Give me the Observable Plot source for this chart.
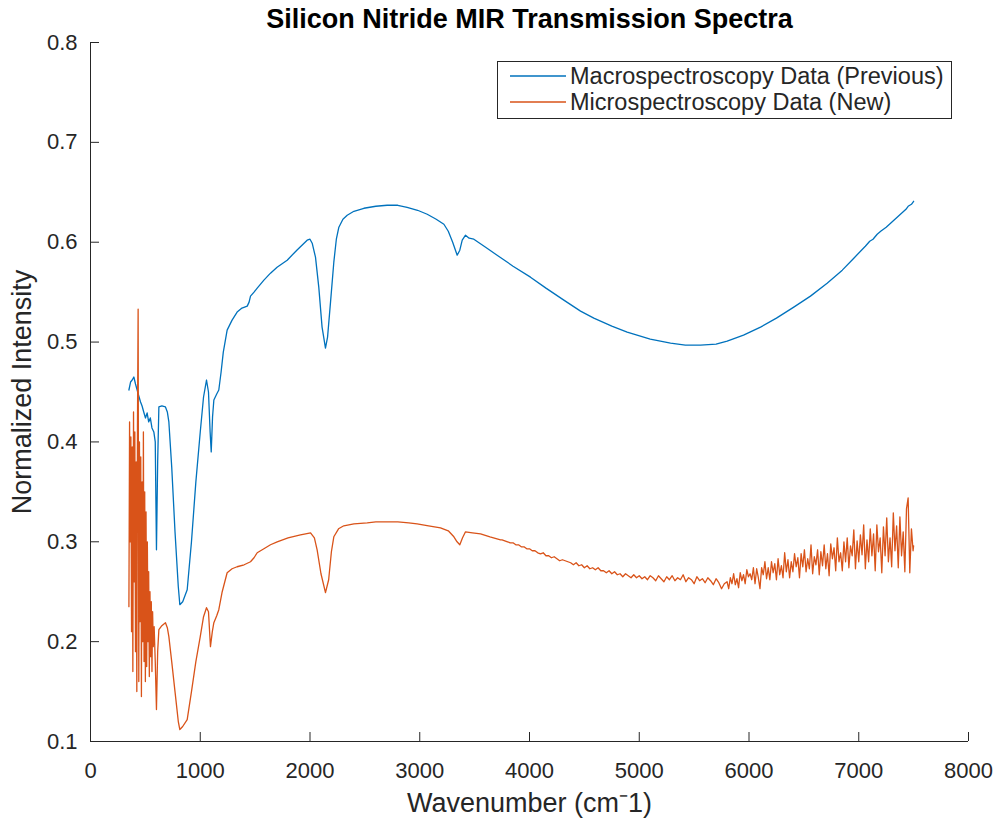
<!DOCTYPE html>
<html><head><meta charset="utf-8">
<script src="https://cdn.jsdelivr.net/npm/d3@7"></script>
<script src="https://cdn.jsdelivr.net/npm/@observablehq/plot@0.6"></script>
<style>
body{margin:0;background:#fff;font-family:"Liberation Sans",Arial,Helvetica,sans-serif;}
#wrap{position:relative;width:1001px;height:820px;}
#legend{position:absolute;left:497px;top:61px;width:455px;height:58px;border:1px solid #262626;background:#fff;box-sizing:border-box;}
#legend .row{position:absolute;left:0;height:26px;display:flex;align-items:center;}
#legend .row svg{margin-left:12px;margin-right:4px;}
#legend .row span{font-size:23.5px;color:#262626;white-space:nowrap;}
</style></head><body><div id="wrap"></div>
<script>
const title = "Silicon Nitride MIR Transmission Spectra";
const xLabel = "Wavenumber (cm\u207B1)";
const yLabel = "Normalized Intensity";
const seriesNames = ["Macrospectroscopy Data (Previous)", "Microspectroscopy Data (New)"];
const seriesColors = ["#0072BD", "#D95319"];
const xTicks = [0, 1000, 2000, 3000, 4000, 5000, 6000, 7000, 8000];
const yTicks = [0.1, 0.2, 0.3, 0.4, 0.5, 0.6, 0.7, 0.8];

const macroWn = [350,365,380,395,410,425,440,456,470,485,501,516,530,545,560,577,590,601,612,623,650,683,700,714,740,770,800,814,840,881,920,960,1000,1030,1057,1075,1090,1100,1112,1124,1150,1169,1190,1210,1245,1290,1336,1380,1428,1445,1458,1490,1519,1580,1640,1700,1792,1880,1974,2000,2020,2050,2080,2110,2141,2160,2187,2217,2240,2263,2300,2339,2400,2491,2600,2703,2800,2885,2980,3068,3150,3220,3260,3300,3341,3365,3387,3417,3450,3493,3600,3705,3850,4009,4150,4313,4465,4586,4750,4890,5100,5285,5420,5558,5700,5801,5950,6105,6250,6408,6560,6712,6850,6955,7060,7100,7130,7168,7200,7250,7290,7320,7360,7400,7430,7450,7480,7500];
const macroVal = [0.452,0.460,0.462,0.465,0.458,0.452,0.446,0.440,0.436,0.430,0.424,0.429,0.420,0.424,0.414,0.410,0.400,0.292,0.380,0.435,0.436,0.435,0.430,0.420,0.375,0.310,0.255,0.237,0.240,0.252,0.300,0.360,0.410,0.445,0.462,0.450,0.410,0.390,0.425,0.442,0.448,0.452,0.470,0.490,0.512,0.522,0.530,0.534,0.536,0.540,0.546,0.550,0.554,0.562,0.569,0.575,0.582,0.592,0.602,0.603,0.599,0.585,0.555,0.515,0.494,0.505,0.540,0.580,0.603,0.615,0.623,0.627,0.631,0.634,0.636,0.637,0.637,0.635,0.632,0.628,0.623,0.618,0.611,0.600,0.587,0.592,0.602,0.607,0.604,0.603,0.595,0.587,0.576,0.565,0.554,0.542,0.531,0.524,0.516,0.510,0.503,0.499,0.497,0.497,0.498,0.501,0.507,0.515,0.524,0.535,0.546,0.559,0.572,0.584,0.596,0.601,0.603,0.608,0.611,0.615,0.619,0.622,0.626,0.630,0.633,0.636,0.638,0.641];

const microWn = [350,356,362,368,374,380,386,392,398,404,410,416,422,428,434,440,446,452,458,464,470,476,482,488,494,500,506,512,518,524,530,536,542,548,554,560,566,572,580,590,601,612,623,650,683,700,714,740,770,800,814,840,881,920,960,1000,1030,1057,1075,1093,1110,1124,1150,1169,1200,1245,1290,1336,1400,1458,1490,1519,1580,1640,1701,1800,1913,1960,2005,2040,2065,2100,2141,2170,2195,2217,2260,2308,2400,2521,2600,2673,2800,2900,2976,3080,3189,3260,3311,3340,3365,3390,3417,3480,3554,3640,3736,
3750,3775,3800,3825,3850,3875,3900,3925,3950,3975,4000,4025,4050,4075,4100,4125,4150,4175,4200,4225,4250,4275,4300,4325,4350,4375,4400,4425,4450,4475,4500,4525,4550,4575,4600,4625,4650,4675,4700,4725,4750,4775,4800,4825,4850,4875,4900,4925,4950,4975,5000,5025,5050,5075,5100,5125,5150,5175,5200,5225,5250,5275,5300,5325,5350,5375,5400,5425,5450,5475,5500,5525,5550,5575,5600,5625,5650,5675,5700,5725,5750,5775,
5800,5815,5830,5845,5860,5875,5890,5905,5920,5935,5950,5965,5980,5995,6010,6025,6040,6055,6070,6085,6100,6115,6130,6145,6160,6175,6190,6205,6220,6235,6250,6265,6280,6295,6310,6325,6340,6355,6370,6385,6400,6415,6430,6445,6460,6475,6490,6505,6520,6535,6550,6565,6580,6595,6610,6625,6640,6655,6670,6685,6700,6715,6730,6745,6760,6775,6790,6805,6820,6835,6850,6865,6880,6895,6910,6925,6940,6955,6970,6985,7000,7015,7030,7045,7060,7075,7090,7105,7120,7135,7150,7165,7180,7195,7210,7225,7240,7255,7270,7285,7300,7315,7330,7345,7360,7375,7390,7405,7420,7435,7450,7465,7480,7495,7500];
const microVal = [0.235,0.420,0.300,0.405,0.210,0.395,0.170,0.430,0.260,0.410,0.190,0.380,0.150,0.415,0.533,0.160,0.400,0.220,0.385,0.145,0.360,0.200,0.410,0.180,0.350,0.160,0.330,0.175,0.300,0.200,0.270,0.165,0.250,0.185,0.240,0.170,0.230,0.195,0.215,0.180,0.132,0.190,0.212,0.216,0.219,0.214,0.205,0.180,0.150,0.120,0.112,0.115,0.122,0.150,0.180,0.205,0.225,0.234,0.230,0.195,0.210,0.219,0.226,0.232,0.250,0.269,0.273,0.275,0.277,0.280,0.284,0.289,0.293,0.297,0.300,0.304,0.307,0.308,0.309,0.304,0.292,0.268,0.249,0.262,0.290,0.305,0.313,0.316,0.318,0.319,0.320,0.320,0.320,0.319,0.318,0.316,0.314,0.311,0.305,0.300,0.297,0.304,0.310,0.309,0.308,0.305,0.302,
0.302,0.301,0.300,0.299,0.299,0.297,0.297,0.295,0.295,0.293,0.293,0.291,0.291,0.289,0.288,0.289,0.286,0.286,0.284,0.285,0.283,0.281,0.282,0.281,0.280,0.279,0.277,0.279,0.276,0.277,0.274,0.276,0.273,0.274,0.272,0.274,0.271,0.271,0.269,0.271,0.268,0.270,0.267,0.268,0.265,0.268,0.266,0.264,0.267,0.264,0.266,0.263,0.265,0.262,0.266,0.264,0.261,0.266,0.263,0.260,0.265,0.262,0.266,0.261,0.264,0.262,0.267,0.260,0.264,0.262,0.258,0.265,0.261,0.263,0.259,0.264,0.261,0.257,0.263,0.259,0.253,0.258,
0.260,0.253,0.264,0.258,0.268,0.257,0.263,0.254,0.269,0.261,0.267,0.258,0.272,0.265,0.268,0.262,0.274,0.258,0.273,0.264,0.253,0.274,0.267,0.280,0.263,0.274,0.262,0.280,0.269,0.278,0.262,0.283,0.267,0.276,0.264,0.289,0.270,0.282,0.264,0.280,0.270,0.288,0.275,0.284,0.264,0.288,0.275,0.292,0.270,0.283,0.273,0.297,0.268,0.285,0.277,0.292,0.267,0.290,0.276,0.297,0.273,0.288,0.266,0.298,0.283,0.294,0.271,0.304,0.280,0.289,0.271,0.300,0.280,0.304,0.274,0.296,0.286,0.312,0.273,0.301,0.280,0.307,0.287,0.317,0.273,0.302,0.280,0.313,0.286,0.308,0.271,0.317,0.290,0.304,0.269,0.315,0.286,0.324,0.280,0.304,0.275,0.329,0.291,0.316,0.274,0.325,0.286,0.310,0.270,0.333,0.344,0.269,0.313,0.291,0.296];

const rows = [
  ...macroWn.map((w, i) => ({wn: w, val: macroVal[i], series: seriesNames[0]})),
  ...microWn.map((w, i) => ({wn: w, val: microVal[i], series: seriesNames[1]}))
];

const ink = "#262626";
const font = "'Liberation Sans', Arial, Helvetica, sans-serif";

const chart = Plot.plot({
  width: 1001, height: 820,
  marginLeft: 90, marginRight: 33, marginTop: 42, marginBottom: 79,
  style: {fontFamily: font, background: "#fff", overflow: "visible"},
  x: {domain: [0, 8000]},
  y: {domain: [0.1, 0.8]},
  color: {domain: seriesNames, range: seriesColors},
  marks: [
    Plot.ruleX([xTicks[0]], {stroke: ink, strokeWidth: 1}),
    Plot.ruleY([yTicks[0]], {stroke: ink, strokeWidth: 1}),
    Plot.axisX({ticks: xTicks, tickSize: -9, tickPadding: 30, fontSize: 22, color: ink, tickFormat: d3.format("d"), label: null}),
    Plot.axisY({ticks: yTicks, tickSize: -9, tickPadding: 22, fontSize: 22, color: ink, tickFormat: d => d.toFixed(1), label: null}),
    Plot.line(rows, {x: "wn", y: "val", z: "series", stroke: "series", strokeWidth: 1.3}),
    Plot.text([title], {text: d => d, frameAnchor: "top", lineAnchor: "middle", dy: -23.5, fontSize: 27, fontWeight: "bold", fill: "#000"}),
    Plot.text([xLabel], {text: d => d, frameAnchor: "bottom", lineAnchor: "middle", dy: 61.5, fontSize: 27, fill: ink}),
    Plot.text([yLabel], {text: d => d, frameAnchor: "left", textAnchor: "middle", lineAnchor: "middle", dx: -68, rotate: -90, fontSize: 27, fill: ink})
  ]
});

const wrap = document.getElementById("wrap");
wrap.appendChild(chart);

const legend = document.createElement("div");
legend.id = "legend";
seriesNames.forEach((name, i) => {
  const row = document.createElement("div");
  row.className = "row";
  row.style.top = (i * 26 + 1) + "px";
  row.innerHTML = `<svg width="56" height="4"><line x1="0" y1="2" x2="56" y2="2" stroke="${seriesColors[i]}" stroke-width="1.6"/></svg><span>${name}</span>`;
  legend.appendChild(row);
});
wrap.appendChild(legend);
</script>
</body></html>
